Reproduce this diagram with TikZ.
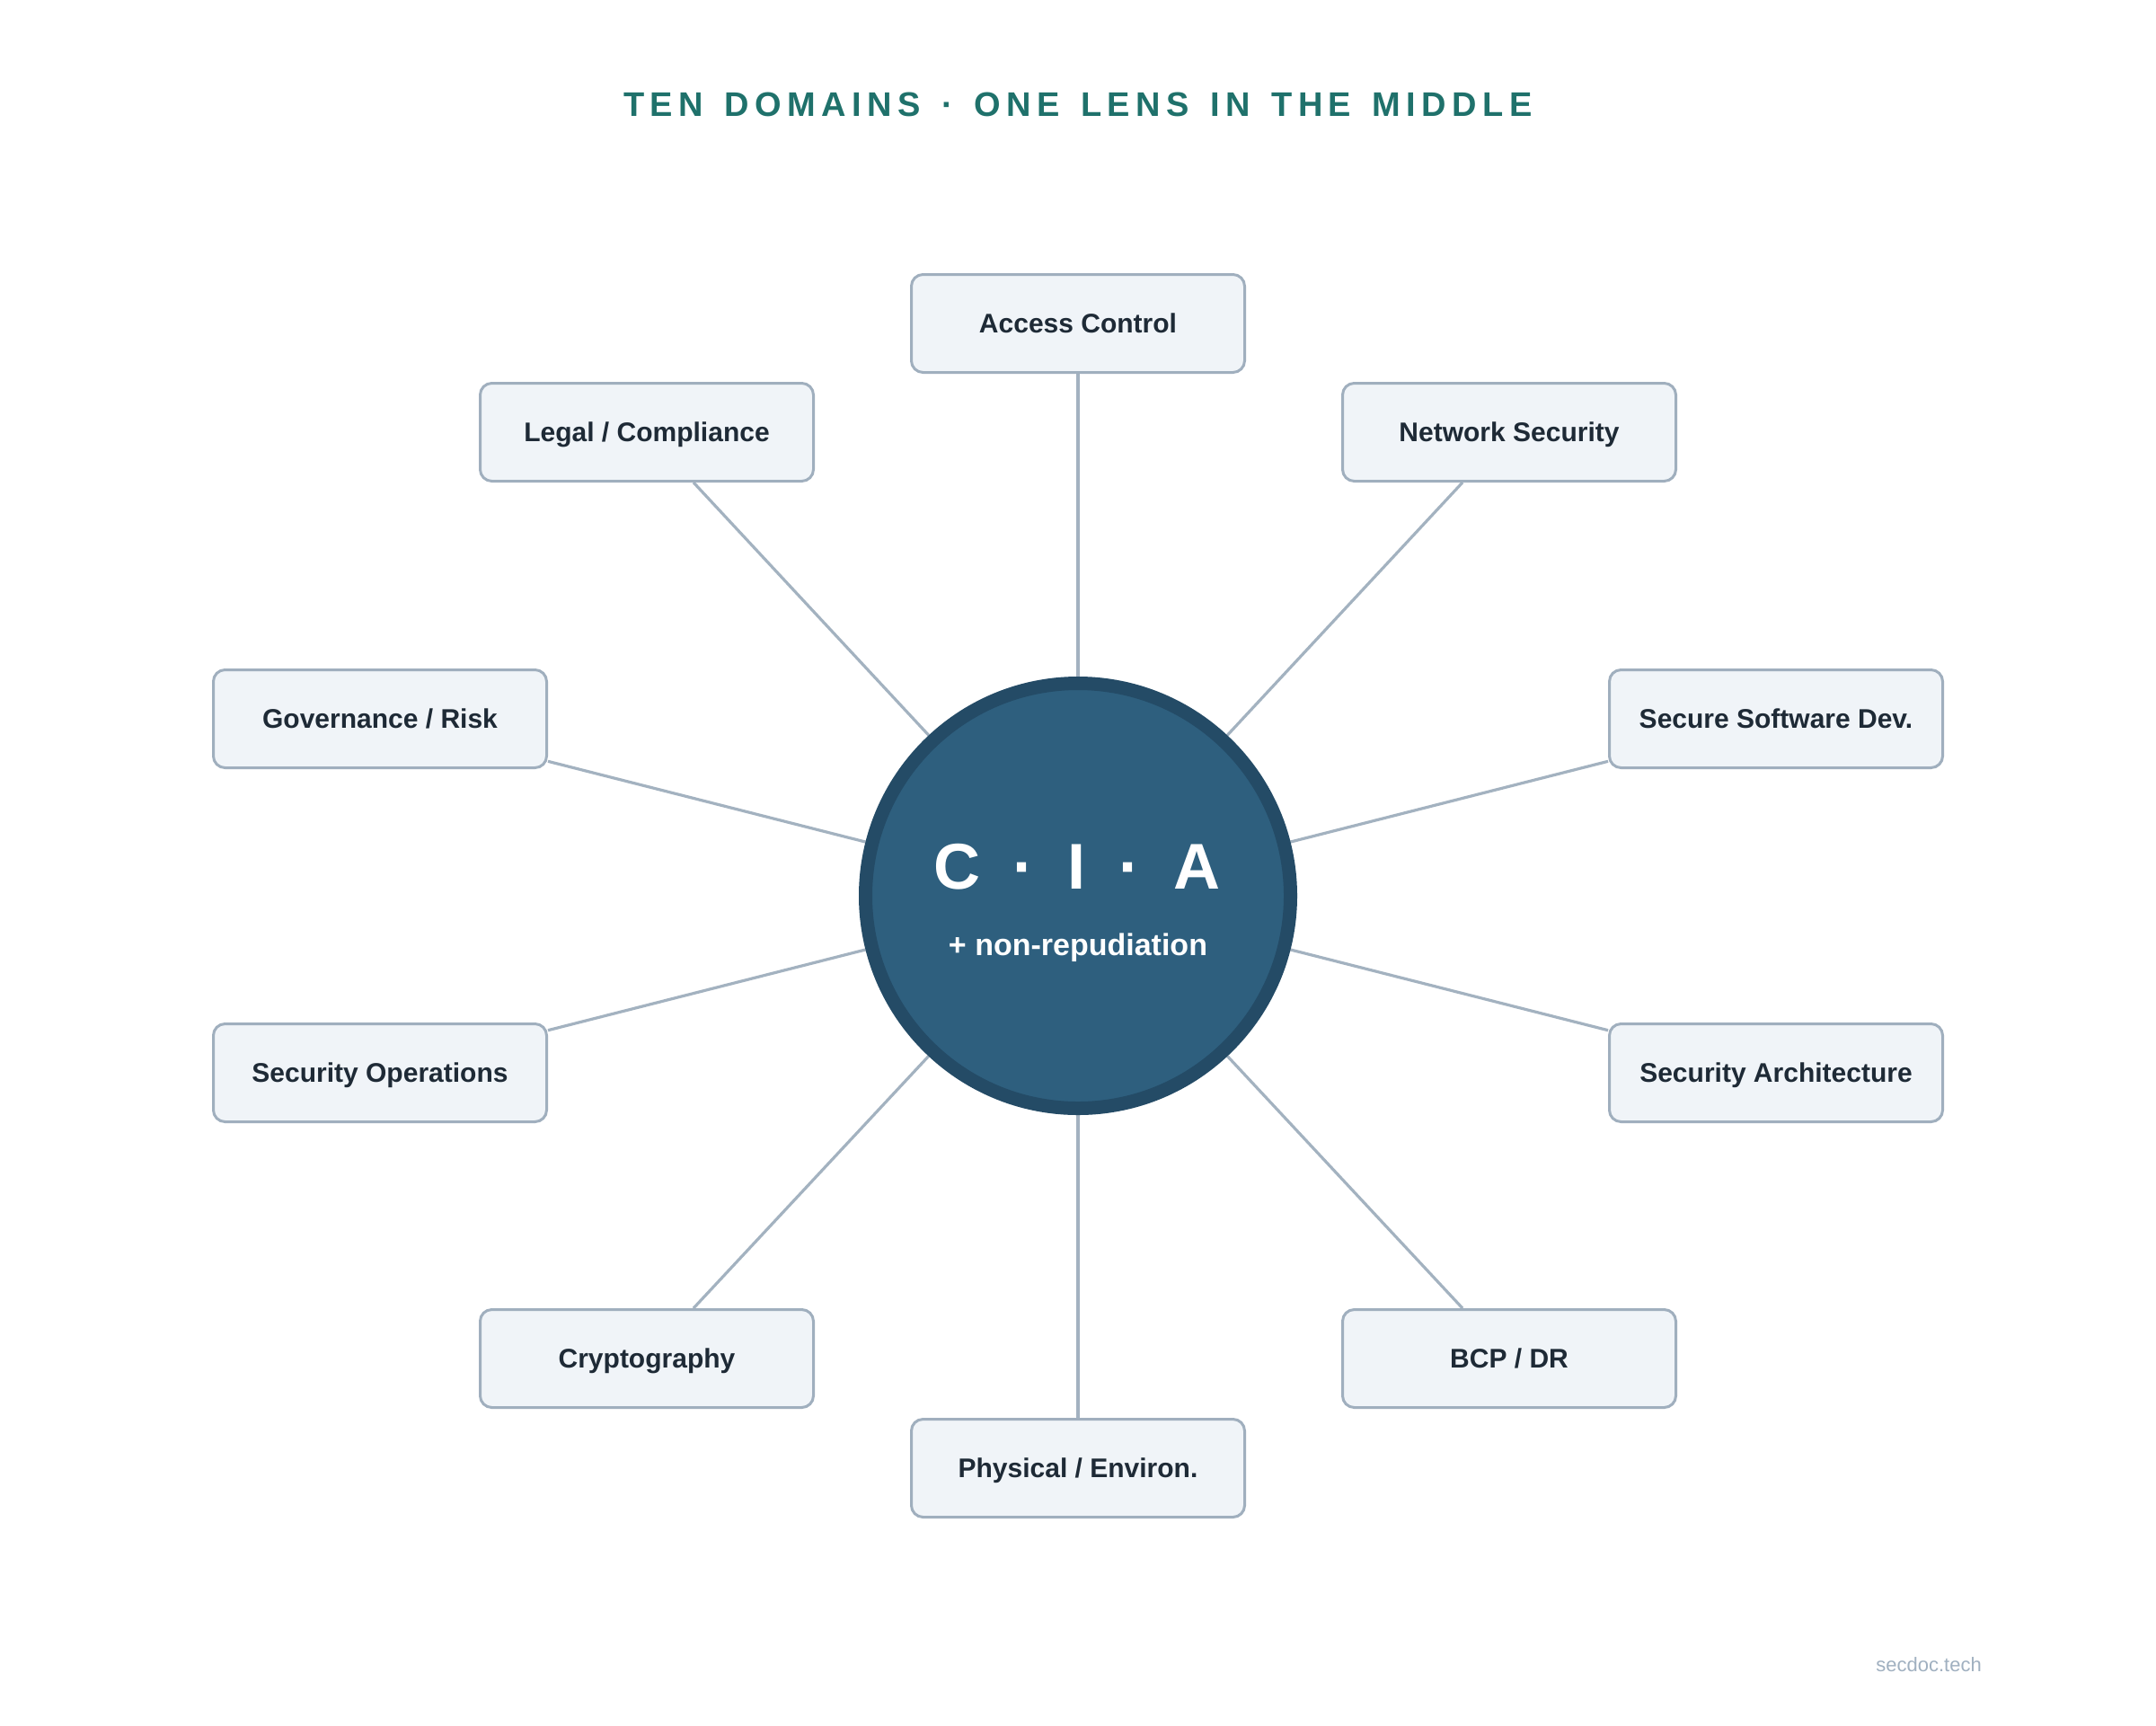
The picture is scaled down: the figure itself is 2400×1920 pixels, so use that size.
\documentclass[tikz,border=0pt]{standalone}
\usepackage{fontspec}
\setmainfont{Liberation Sans}
\newfontfamily\titlefont[LetterSpace=17]{Liberation Sans}
\usetikzlibrary{backgrounds}
\definecolor{titleteal}{HTML}{1F716B}
\definecolor{boxfill}{HTML}{F0F4F8}
\definecolor{boxborder}{HTML}{A0AFBE}
\definecolor{conncol}{HTML}{A3B2C0}
\definecolor{boxtext}{HTML}{1E2A36}
\definecolor{ciafill}{HTML}{2E5F7E}
\definecolor{ciaborder}{HTML}{244B66}
\definecolor{footcol}{HTML}{A0B0C0}
\newcommand{\tsp}{\hspace{23.5pt}}
\begin{document}
\begin{tikzpicture}[x=1pt,y=-1pt,
  dombox/.style={draw=boxborder, fill=boxfill, line width=3pt, rounded corners=13pt,
    minimum width=371pt, minimum height=109pt, inner sep=0pt,
    text height=21.5pt, text depth=0pt,
    font=\bfseries\fontsize{30}{36}\selectfont, text=boxtext},
  conn/.style={draw=conncol, line width=3.2pt},
  hub/.style={circle, draw=ciaborder, fill=ciafill, line width=15pt,
    minimum size=473pt, inner sep=0pt}]
\useasboundingbox (0,0) rectangle (2400,1920);

\node[anchor=base, text=titleteal, font=\titlefont\bfseries\fontsize{38}{44}\selectfont]
  (title) at (1200,129) {TEN\tsp DOMAINS\tsp ·\tsp ONE\tsp LENS\tsp IN\tsp THE\tsp MIDDLE};

\node[hub] (cia) at (1200,997) {};
\node[anchor=base, text=white, font=\bfseries\fontsize{72}{80}\selectfont, inner sep=0pt]
  (ciatext) at (1199,989) {C\kern37pt·\kern37pt I\kern37pt·\kern37pt A};
\node[anchor=base, text=white, font=\bfseries\fontsize{34}{40}\selectfont, inner sep=0pt]
  (nonrep) at (1200,1063) {+ non-repudiation};

\node[dombox] (ac)  at (1200,360)  {Access Control};
\node[dombox] (lc)  at (720,481)   {Legal / Compliance};
\node[dombox] (ns)  at (1680,481)  {Network Security};
\node[dombox] (gr)  at (423,800)   {Governance / Risk};
\node[dombox] (ssd) at (1977,800)  {Secure Software Dev.};
\node[dombox] (so)  at (423,1194)  {Security Operations};
\node[dombox] (sa)  at (1977,1194) {Security Architecture};
\node[dombox] (cr)  at (720,1512)  {Cryptography};
\node[dombox] (bcp) at (1680,1512) {BCP / DR};
\node[dombox] (pe)  at (1200,1634) {Physical / Environ.};

\begin{scope}[on background layer]
  \fill[white] (0,0) rectangle (2400,1920);
  \foreach \n in {ac,lc,ns,gr,ssd,so,sa,cr,bcp,pe}
    \draw[conn] (\n) -- (cia);
\end{scope}

\node[anchor=base east, text=footcol, font=\fontsize{22}{26}\selectfont, inner sep=0pt]
  (foot) at (2206,1860) {secdoc.tech};
\end{tikzpicture}
\end{document}
